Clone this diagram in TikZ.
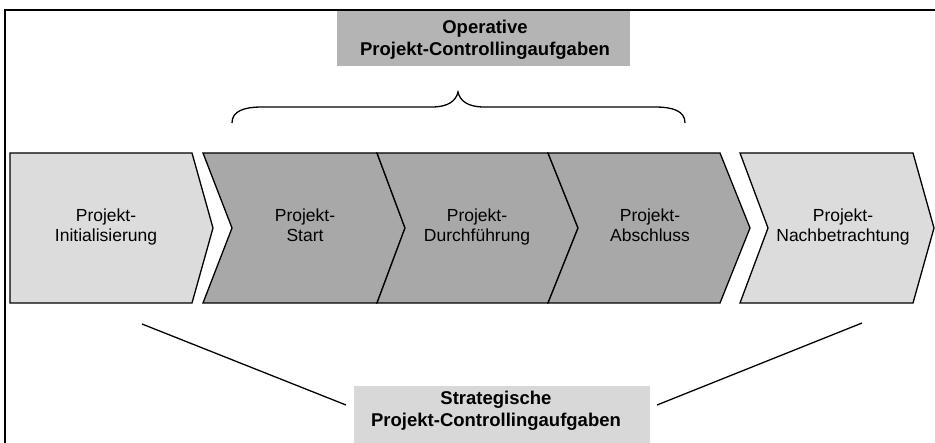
\documentclass[tikz,border=0pt]{standalone}
\usepackage{fontspec}
\setmainfont{Liberation Sans}
\begin{document}
\begin{tikzpicture}[x=1pt,y=-1pt,
  chev/.style={draw=black, line width=1.3pt, line join=miter},
  lightchev/.style={chev, fill=lightgrey},
  darkchev/.style={chev, fill=darkgrey},
  chevtext/.style={align=center, font=\fontsize{17.5}{20}\selectfont, inner sep=0pt},
  labeltext/.style={align=center, font=\bfseries\fontsize{18.5}{22}\selectfont, inner sep=0pt},
  labelbox/.style={inner sep=0pt, minimum width=#1},
  rule/.style={line width=1.3pt}]
\definecolor{lightgrey}{HTML}{DCDCDC}
\definecolor{darkgrey}{HTML}{A8A8A8}
\definecolor{topbox}{HTML}{B4B4B4}
\definecolor{botbox}{HTML}{D8D8D8}
\useasboundingbox (0,0) rectangle (935,443);
% frame
\draw[rule] (5,443) -- (5,10) -- (935,10);
% label boxes
\node[labelbox=293pt, fill=topbox, minimum height=55pt, anchor=north] (operbox) at (483.5,11) {};
\node[labeltext] (oper) at (485,39.5) {Operative\\Projekt-Controllingaufgaben};
\node[labelbox=296pt, fill=botbox, minimum height=62pt, anchor=north] (stratbox) at (502,386) {};
\node[labeltext] (strat) at (496,411) {Strategische\\Projekt-Controllingaufgaben};
% brace
\coordinate (bl) at (232,123);
\coordinate (bt) at (458,92);
\coordinate (br) at (685,123);
\draw[rule] (bl) .. controls (232,111) and (244,107) .. (262,107) -- (432,107)
  .. controls (448,107) and (456,101) .. (bt)
  .. controls (460,101) and (468,107) .. (484,107) -- (655,107)
  .. controls (673,107) and (685,111) .. (br);
% chevrons
\draw[lightchev] (10,153) -- (192,153) -- (213,228) -- (192,303) -- (10,303) -- cycle;
\draw[darkchev] (203,153) -- (377,153) -- (405,228) -- (377,303) -- (203,303) -- (232,228) -- cycle;
\draw[darkchev] (377,153) -- (548,153) -- (578,228) -- (548,303) -- (377,303) -- (405,228) -- cycle;
\draw[darkchev] (548,153) -- (720,153) -- (750,228) -- (720,303) -- (548,303) -- (578,228) -- cycle;
\draw[lightchev] (740,153) -- (913,153) -- (934,228) -- (913,303) -- (740,303) -- (768,228) -- cycle;
\node[chevtext] (init) at (106,227) {Projekt-\\Initialisierung};
\node[chevtext] (start) at (305,227) {Projekt-\\Start\vphantom{g}};
\node[chevtext] (durch) at (477,227) {Projekt-\\Durchführung};
\node[chevtext] (absch) at (650,227) {Projekt-\\Abschluss\vphantom{g}};
\node[chevtext] (nach) at (843,227) {Projekt-\\Nachbetrachtung};
% strategic lines
\coordinate (ls) at (142,324);
\coordinate (le) at (346,405);
\coordinate (rs) at (862,323);
\coordinate (re) at (657,405);
\draw[rule] (ls) -- (le);
\draw[rule] (rs) -- (re);
\end{tikzpicture}
\end{document}
